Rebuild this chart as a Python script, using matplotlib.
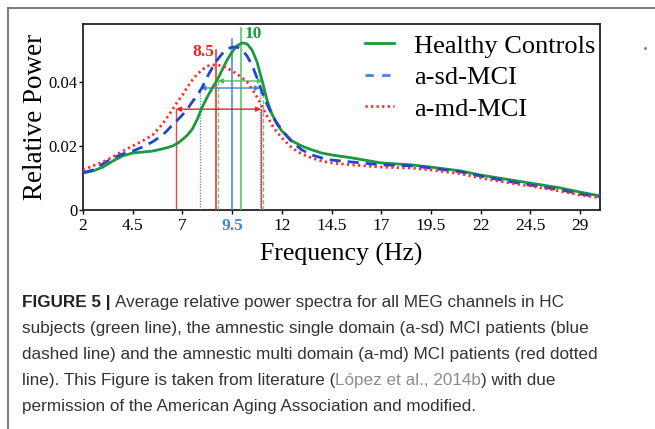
import matplotlib
matplotlib.use("Agg")
import matplotlib.pyplot as plt
from matplotlib.lines import Line2D

# ---------------- data ----------------
freq = [2.0, 2.5, 3.0, 3.5, 4.0, 4.5, 5.0, 5.5, 6.0, 6.25, 6.5, 6.75, 7.0, 7.25, 7.5, 7.75,
        8.0, 8.25, 8.5, 8.75, 9.0, 9.25, 9.5, 9.75, 10.0, 10.25, 10.5, 10.75, 11.0, 11.25,
        11.5, 11.75, 12.0, 12.5, 13.0, 13.5, 14.0, 14.5, 15.5,
        17.0, 18.5, 19.5, 21.0, 22.0, 23.5, 24.5, 26.0, 27.0, 28.0]

hc = [0.0116, 0.0122, 0.0134, 0.0153, 0.0169, 0.0178, 0.0181, 0.0184, 0.0191, 0.0195,
      0.0200, 0.0208, 0.0220, 0.0234, 0.0253, 0.0284, 0.0322, 0.0353, 0.0381, 0.0406,
      0.0438, 0.0469, 0.0494, 0.0513, 0.0522, 0.0519, 0.0500, 0.0463, 0.0406, 0.0344,
      0.0300, 0.0269, 0.0247, 0.0216, 0.0200, 0.0188, 0.0178, 0.0172, 0.0163,
      0.0147, 0.0141, 0.0134, 0.0122, 0.0109, 0.0094, 0.0084, 0.0069, 0.0056, 0.0044]

sd = [0.0116, 0.0125, 0.0144, 0.0163, 0.0175, 0.0184, 0.0197, 0.0213, 0.0234, 0.0249,
      0.0266, 0.0281, 0.0297, 0.0316, 0.0338, 0.0359, 0.0384, 0.0416, 0.0444, 0.0469,
      0.0488, 0.0503, 0.0509, 0.0509, 0.0500, 0.0481, 0.0453, 0.0413, 0.0369, 0.0331,
      0.0297, 0.0272, 0.0250, 0.0213, 0.0188, 0.0172, 0.0163, 0.0156, 0.0150,
      0.0141, 0.0138, 0.0131, 0.0119, 0.0106, 0.0088, 0.0078, 0.0063, 0.0050, 0.0041]

md = [0.0125, 0.0138, 0.0150, 0.0166, 0.0184, 0.0200, 0.0216, 0.0234, 0.0269, 0.0291,
      0.0313, 0.0338, 0.0359, 0.0384, 0.0406, 0.0425, 0.0438, 0.0450, 0.0453, 0.0453,
      0.0450, 0.0444, 0.0434, 0.0425, 0.0413, 0.0400, 0.0378, 0.0353, 0.0325, 0.0294,
      0.0266, 0.0244, 0.0225, 0.0194, 0.0175, 0.0163, 0.0153, 0.0147, 0.0141,
      0.0134, 0.0131, 0.0125, 0.0113, 0.0100, 0.0084, 0.0075, 0.0059, 0.0047, 0.0038]

series_labels = ["Healthy Controls", "a-sd-MCI", "a-md-MCI"]

# peak frequency markers (freq, top of line)
peak_freq = [9.95, 9.5, 8.7]
peak_top = [0.0570, 0.0535, 0.0500]
peak_text = ["10", "9.5", "8.5"]

# half-width markers: (left freq, right freq, level)
half_left = [8.78, 7.9, 6.67]
half_right = [11.05, 10.9, 10.95]
half_level = [0.0403, 0.0381, 0.0315]

xticks = [2, 4.5, 7, 9.5, 12, 14.5, 17, 19.5, 22, 24.5, 27]
xticklabels = ["2", "4.5", "7", "9.5", "12", "14.5", "17", "19.5", "22", "24.5", "29"]
yticks = [0, 0.02, 0.04]
yticklabels = ["0", "0.02", "0.04"]

caption_lines = [
    [("FIGURE 5 |", "bold", "#222222"), ("Average relative power spectra for all MEG channels in HC", "normal", "#333333")],
    [("subjects (green line), the amnestic single domain (a-sd) MCI patients (blue", "normal", "#333333")],
    [("dashed line) and the amnestic multi domain (a-md) MCI patients (red dotted", "normal", "#333333")],
    [("line). This Figure is taken from literature (", "normal", "#333333"),
     ("López et al., 2014b", "normal", "#8c8c8c"), (") with due", "normal", "#333333")],
    [("permission of the American Aging Association and modified.", "normal", "#333333")],
]

# ---------------- style ----------------
W, H = 655, 429
fig = plt.figure(figsize=(W / 100, H / 100), dpi=100)
serif = "Liberation Serif"
sans = "Liberation Sans"

c_green, c_blue, c_red = "#1a9a3c", "#2046d0", "#ff2a2a"
a_green, a_blue, a_red = "#4cc060", "#3a88d8", "#ee2222"

ax = fig.add_axes([83 / W, 1 - 210 / H, (600 - 83) / W, (210 - 24) / H])
ax.set_xlim(2, 28)
ax.set_ylim(0, 0.0581)

ax.plot(freq, hc, color=c_green, lw=2.0, label=series_labels[0], zorder=5,
        solid_joinstyle="round")
ax.plot(freq, sd, color=c_blue, lw=2.0, dashes=(4, 2.5), label=series_labels[1], zorder=5)
ax.plot(freq, md, color=c_red, lw=2.0, dashes=(0.8, 1.2), label=series_labels[2], zorder=5)

# peak lines
pk_cols = [a_green, a_blue, a_red]
for f, t, c in zip(peak_freq, peak_top, pk_cols):
    ax.plot([f, f], [0, t], color=c, lw=1.1, zorder=3)
ax.text(peak_freq[0] + 0.2, 0.0550, peak_text[0], color=c_green, fontsize=12.5,
        fontweight="bold", family=serif, ha="left", va="center")
ax.text(peak_freq[2] - 0.08, 0.0492, peak_text[2], color=a_red, fontsize=12.5,
        fontweight="bold", family=serif, ha="right", va="center")

# half-width lines
half_styles = [dict(ls=(0, (3, 1.5))), dict(ls=(0, (1, 1))), dict(ls="-")]
for l, r, lev, c, st in zip(half_left, half_right, half_level, pk_cols, half_styles):
    ax.plot([l, l], [0, lev], color=c, lw=1.0, alpha=0.85, zorder=3, **st)
    ax.plot([r, r], [0, lev], color=c, lw=1.0, alpha=0.85, zorder=3, **st)
    ax.annotate("", xy=(l, lev), xytext=(r, lev),
                arrowprops=dict(arrowstyle="<|-|>", color=c, lw=1.0,
                                mutation_scale=7, shrinkA=0, shrinkB=0), zorder=4)

# axes styling
for s in ax.spines.values():
    s.set_linewidth(1.3)
    s.set_color("#222222")
ax.set_xticks(xticks)
ax.set_xticklabels(xticklabels)
ax.set_yticks(yticks)
ax.set_yticklabels(yticklabels)
ax.tick_params(direction="out", length=3, width=1, labelsize=12.5)
ax.tick_params(axis="y", pad=1, labelsize=12)
ax.tick_params(axis="x", pad=3)
for lab in ax.get_xticklabels() + ax.get_yticklabels():
    lab.set_family(serif)
for lab in ax.get_xticklabels():
    if lab.get_text() == peak_text[1]:
        lab.set_color(a_blue)
        lab.set_fontweight("bold")

ax.set_ylabel("Relative Power", family=serif, fontsize=19.5, labelpad=0.5)
ax.set_xlabel("Frequency (Hz)", family=serif, fontsize=18.5, labelpad=6)

leg = ax.legend(loc="upper right", bbox_to_anchor=(1.022, 1.03), frameon=False,
                prop=dict(family=serif, size=19), handlelength=1.1,
                handletextpad=0.75, labelspacing=0.3, borderaxespad=0.2)
leg.get_lines()[1].set_color(a_blue)
leg.get_lines()[1].set_dashes((3, 3))

# frame lines
fig.add_artist(Line2D([8 / W, 1], [1 - 8 / H, 1 - 8 / H], transform=fig.transFigure,
                      color="#666666", lw=1.2))
fig.add_artist(Line2D([8 / W, 8 / W], [0, 1 - 8 / H], transform=fig.transFigure,
                      color="#666666", lw=1.2))
fig.add_artist(Line2D([645 / W], [1 - 48 / H], transform=fig.transFigure,
                      marker="o", ms=1.2, color="#888888", lw=0))

# caption
fig.canvas.draw()
renderer = fig.canvas.get_renderer()
fs = 12.3


def text_width(s, weight):
    t = fig.text(0, 0, s, fontsize=fs, family=sans, fontweight=weight)
    w = t.get_window_extent(renderer).width
    t.remove()
    return w


space_w = text_width("a a", "normal") - text_width("aa", "normal")
y0 = 302
dy = 26.2
for i, line in enumerate(caption_lines):
    x = 22
    y = y0 + i * dy
    for j, (s, weight, col) in enumerate(line):
        t = fig.text(x / W, 1 - y / H, s, fontsize=fs, family=sans, fontweight=weight,
                     color=col, va="center", ha="left")
        x += t.get_window_extent(renderer).width
        if weight == "bold":
            x += space_w

fig.savefig("out.png", dpi=100)
